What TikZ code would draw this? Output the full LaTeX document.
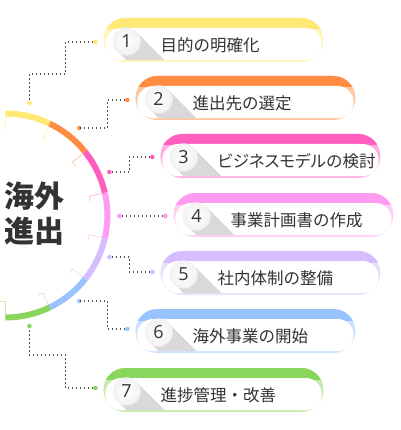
\documentclass[tikz,border=0pt]{standalone}
\usepackage{fontspec}
\setmainfont{Open Sans}
\newfontfamily\jpfont{Noto Sans CJK JP}
\newfontfamily\jppfont[RawFeature=+palt]{Noto Sans CJK JP}
\usepackage{tikz}
\definecolor{ink}{HTML}{333333}
\definecolor{linkgray}{HTML}{555555}
\definecolor{c1}{HTML}{FFE873}
\definecolor{c2}{HTML}{FF8C42}
\definecolor{c3}{HTML}{FF5EBE}
\definecolor{c4}{HTML}{FF9CF2}
\definecolor{c5}{HTML}{D6BDFF}
\definecolor{c6}{HTML}{99C3FF}
\definecolor{c7}{HTML}{88D65C}
\newcommand{\pillw}{220}
\newcommand{\arcrad}{102}

\begin{document}
\begin{tikzpicture}[x=1pt,y=1pt,
    seg/.style={line width=6pt},
    bracket/.style={line width=.8pt},
    link/.style={draw=linkgray, line width=1.4pt, dash pattern=on 1.4pt off 2.6pt},
    blob/.style={circle, fill, inner sep=0pt, minimum size=4.6pt},
    numtext/.style={font=\fontsize{18}{18}\selectfont, text=ink, inner sep=0pt},
    labtext/.style={font=\jpfont\fontsize{16.5}{18}\selectfont, text=ink, anchor=west, inner sep=0pt}]
\fill[white] (0,0) rectangle (400,-430);

    % left arc, one segment per step
\coordinate (ctr) at (5,-215.5);
\foreach \k/\col in {1/c1,2/c2,3/c3,4/c4,5/c5,6/c6,7/c7} {
  \pgfmathsetmacro{\sa}{90-(\k-1)*180/7}
  \pgfmathsetmacro{\ea}{90-\k*180/7}
  \draw[seg, \col] (ctr) ++(\sa:\arcrad) arc[start angle=\sa, end angle=\ea, radius=\arcrad];
  \draw[bracket, \col!45] (ctr) ++(\ea:99) -- ++(\ea+180:13) -- ++(\ea-90:5);
}
\draw[bracket, c1!45] (ctr) ++(90:99) -- ++(270:13);

\node (title) at (4,-214) [anchor=west, align=left, inner sep=0pt, text=ink,
  font=\jpfont\bfseries\fontsize{30}{35}\selectfont] {海外\\進出};

    % dotted links from the arc to the steps
\foreach \k/\col/\px/\py/\qx/\qy/\rx/\ry in {1/c1/95/42/65/74/29/103,
    2/c2/127/100/107/128/79/128, 3/c3/152/157/129/172/109/172,
    4/c4/165/216/142/216/119/216, 5/c5/152/272/129/257/109/257,
    6/c6/127/329/107/301/79/301, 7/c7/95/388/65/355/29/326} {
  \node (pd\k) at (\px,-\py) [blob, \col] {};
  \coordinate (cn\k) at (\qx,-\qy);
  \node (ad\k) at (\rx,-\ry) [blob, \col] {};
  \draw[link] (pd\k) -| (cn\k) -| (ad\k);
}

    % the steps
\foreach \k/\col/\lx/\cy/\txt in {1/c1/103/40/目的の明確化,
    2/c2/135/98/進出先の選定, 3/c3/160/156/{\jppfont ビジネスモデル}の検討,
    4/c4/173/215/事業計画書の作成, 5/c5/160/273/社内体制の整備,
    6/c6/135/331/海外事業の開始, 7/c7/103/390/進捗管理・改善} {
  \pgfmathsetmacro{\rx}{\lx+\pillw}
  \pgfmathsetmacro{\ty}{-\cy+22}
  \pgfmathsetmacro{\by}{-\cy-22}
  \fill[\col!50, rounded corners=22pt] (\lx,\ty) rectangle (\rx,\by);
  \begin{scope}
    \clip (\lx,\ty) rectangle (\rx,\ty-11);
    \fill[\col, rounded corners=22pt] (\lx,\ty) rectangle (\rx,\by);
  \end{scope}
  \fill[white, rounded corners=16pt] (\lx+1.8,\ty-10) rectangle (\rx-1.8,\by+1.8);
  \begin{scope}
    \clip[rounded corners=16pt] (\lx+1.8,\ty-10) rectangle (\rx-1.8,\by+1.8);
    \fill[black!15] (\lx+23,-\cy-1) ++(45:13.5) -- ++(-45:50) -- ++(-135:27) -- ++(135:50) -- cycle;
  \end{scope}
  \fill[black!6] (\lx+23.4,-\cy-1.6) circle (14);
  \shade[inner color=white, outer color=black!5] (\lx+23,-\cy-1) circle (13.5);
  \node (num\k) at (\lx+23,-\cy-1) [numtext] {\k};
  \node (lab\k) at (\lx+57,-\cy-5.5) [labtext] {\txt};
}
\end{tikzpicture}
\end{document}
